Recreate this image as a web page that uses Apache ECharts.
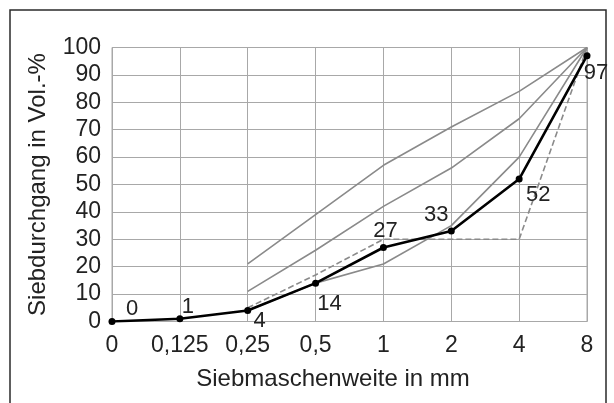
<!DOCTYPE html>
<html>
<head>
<meta charset="utf-8">
<script src="https://cdn.jsdelivr.net/npm/echarts@6/dist/echarts.min.js"></script>
<style>
  html, body { margin: 0; padding: 0; background: #fff; }
  #chart { width: 614px; height: 403px; }
</style>
</head>
<body>
<div id="chart"></div>
<script>
// Sieve sizes (mm) on the x axis
const sieves = ['0', '0,125', '0,25', '0,5', '1', '2', '4', '8'];
const yTicks = [0, 10, 20, 30, 40, 50, 60, 70, 80, 90, 100];

// Grading limit curves (passing in vol.-%)
const curveA = ['-', '-', 21, 39, 57, 71, 84, 100];
const curveB = ['-', '-', 11, 26, 42, 56, 74, 100];
const curveC = ['-', '-', 4, 14, 21, 35, 60, 100];
const gapGraded = ['-', '-', 5, 17, 30, 30, 30, 100];

// Measured grading curve
const measured = [0, 1, 4, 14, 27, 33, 52, 97];
// label offsets around each measured point
const labelOffsets = [[20, -13], [8, -12], [12, 10], [14, 21], [2, -17], [-15, -16], [19, 16], [9, 17]];

const FONT = '"Liberation Sans", Arial, sans-serif';
const grey = '#8a8a8a';

const chart = echarts.init(document.getElementById('chart'), null, { renderer: 'canvas' });

function greyLine(data, dashed) {
  return {
    type: 'line',
    data: data,
    symbol: 'none',
    silent: true,
    lineStyle: { color: grey, width: 1.6, type: dashed ? [6, 3] : 'solid' },
    z: 2
  };
}

chart.setOption({
  animation: false,
  backgroundColor: '#fff',
  grid: { left: 112, right: 27, top: 47.5, bottom: 81.5, containLabel: false,
          show: true, borderColor: '#a8a8a8', borderWidth: 1 },
  graphic: [{
    type: 'rect',
    shape: { x: 10, y: 10, width: 596, height: 400 },
    style: { fill: 'none', stroke: '#2a2a2a', lineWidth: 1.5 },
    silent: true
  }],
  xAxis: {
    type: 'category',
    data: sieves,
    boundaryGap: false,
    name: 'Siebmaschenweite in mm',
    nameLocation: 'middle',
    nameGap: 46,
    nameTextStyle: { fontFamily: FONT, fontSize: 24, color: '#222', padding: [0, 33, 0, 0] },
    axisLine: { show: true, lineStyle: { color: '#a8a8a8', width: 1 } },
    axisTick: { show: false },
    axisLabel: { interval: 0, fontFamily: FONT, fontSize: 23, color: '#222', margin: 13 },
    splitLine: { show: true, lineStyle: { color: '#a8a8a8', width: 1 } }
  },
  yAxis: {
    type: 'value',
    min: 0, max: 100, interval: 10,
    name: 'Siebdurchgang in Vol.-%',
    nameLocation: 'middle',
    nameGap: 62,
    nameTextStyle: { fontFamily: FONT, fontSize: 24, color: '#222' },
    axisLine: { show: false },
    axisTick: { show: false },
    axisLabel: {
      fontFamily: FONT, fontSize: 23, color: '#222', margin: 11,
      formatter: v => (yTicks.includes(v) ? String(v) : '')
    },
    splitLine: { show: true, lineStyle: { color: '#a8a8a8', width: 1 } }
  },
  series: [
    greyLine(curveA, false),
    greyLine(curveB, false),
    greyLine(curveC, false),
    greyLine(gapGraded, true),
    {
      type: 'line',
      data: measured.map((v, i) => ({
        value: v,
        label: { offset: labelOffsets[i] }
      })),
      symbol: 'circle',
      symbolSize: 7,
      itemStyle: { color: '#000' },
      lineStyle: { color: '#000', width: 2.6 },
      label: {
        show: true,
        position: 'inside',
        fontFamily: FONT,
        fontSize: 22,
        color: '#222'
      },
      z: 5
    }
  ]
});
</script>
</body>
</html>
